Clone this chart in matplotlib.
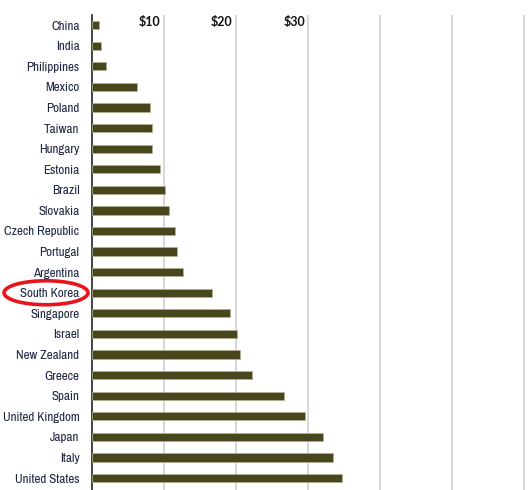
import matplotlib
matplotlib.use("Agg")
import matplotlib.pyplot as plt
from matplotlib import font_manager
from matplotlib.patches import Ellipse

countries = [
    "China", "India", "Philippines", "Mexico", "Poland", "Taiwan", "Hungary",
    "Estonia", "Brazil", "Slovakia", "Czech Republic", "Portugal", "Argentina",
    "South Korea", "Singapore", "Israel", "New Zealand", "Greece", "Spain",
    "United Kingdom", "Japan", "Italy", "United States",
]
values = [
    1.0, 1.2, 1.9, 6.2, 8.0, 8.3, 8.3,
    9.5, 10.1, 10.7, 11.5, 11.8, 12.6,
    16.6, 19.1, 20.1, 20.5, 22.2, 26.6,
    29.5, 32.0, 33.4, 34.7,
]
grid_values = [10, 20, 30, 40, 50, 60]
tick_labels = ["$10", "$20", "$30"]
highlight = "South Korea"

BAR = "#48461c"
LABEL = "#1f2744"

# the reference uses a condensed face; take one if the system has it
names = {f.name for f in font_manager.fontManager.ttflist}
narrow = [n for n in sorted(names) if "Narrow" in n or "Condensed" in n]
if narrow:
    label_font, label_size = [narrow[0], "DejaVu Sans"], 9.4
else:
    label_font, label_size = ["Liberation Sans", "DejaVu Sans"], 7.6

fig = plt.figure(figsize=(5.3, 4.9), dpi=100)
ax = fig.add_axes([92 / 530, 0.0, 1 - 92 / 530, 1 - 15 / 490])

pos = list(range(len(countries)))
ax.barh(pos, values, height=0.4, color=BAR, edgecolor="#b3b394", linewidth=0.5, zorder=3)

for g in grid_values:
    ax.axvline(g, color="#d3d3da", lw=1.3, zorder=1)

ax.set_xlim(0, 60.8)
ax.set_ylim(len(countries) - 1 + 0.58, -0.49)

for spine in ["top", "right", "bottom"]:
    ax.spines[spine].set_visible(False)
ax.spines["left"].set_color("#222222")
ax.spines["left"].set_linewidth(1.2)
ax.set_xticks([])
ax.set_yticks(pos)
ax.set_yticklabels(countries, family=label_font, fontsize=label_size, color=LABEL)
ax.tick_params(axis="y", length=0, pad=9)

for g, lab in zip(grid_values, tick_labels):
    ax.text(g - 0.45, -0.15, lab, ha="right", va="center", fontsize=9,
            fontweight="bold", family=["Lato", "DejaVu Sans"], color="#111111",
            zorder=4)

# red ring around the highlighted label
idx = countries.index(highlight)
y_fig = ax.transData.transform((0, idx))[1] / fig.dpi / 4.9
ring = Ellipse((46 / 530, y_fig), 84 / 530, 24 / 490, transform=fig.transFigure,
               fill=False, edgecolor="#e8141c", lw=2.6, zorder=10)
fig.add_artist(ring)

fig.savefig("out.png", dpi=100)
